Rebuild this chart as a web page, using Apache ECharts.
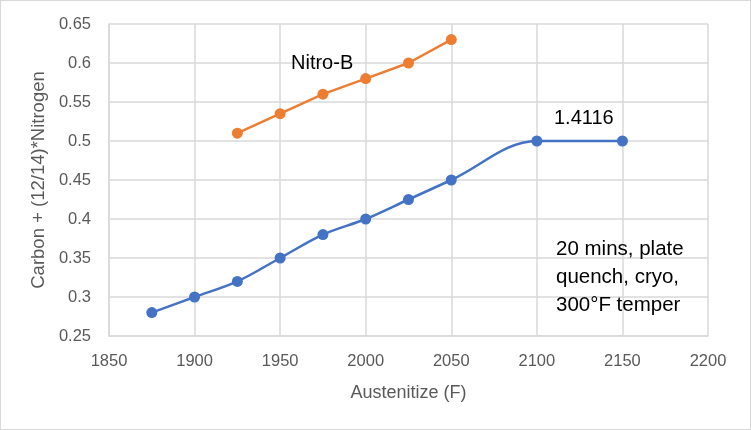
<!DOCTYPE html>
<html><head><meta charset="utf-8">
<script src="https://cdn.jsdelivr.net/npm/echarts@6/dist/echarts.min.js"></script>
<style>html,body{margin:0;padding:0;background:#fff}#c{width:751px;height:430px;box-sizing:border-box;border:1px solid #d9d9d9}</style>
</head><body><div id="c"></div>
<script>
const blueX = [1875, 1900, 1925, 1950, 1975, 2000, 2025, 2050, 2100, 2150];
const blueY = [0.28, 0.30, 0.32, 0.35, 0.38, 0.40, 0.425, 0.45, 0.50, 0.50];
const orangeX = [1925, 1950, 1975, 2000, 2025, 2050];
const orangeY = [0.51, 0.535, 0.56, 0.58, 0.60, 0.63];
const xTitle = 'Austenitize (F)';
const yTitle = 'Carbon + (12/14)*Nitrogen';
const note = '20 mins, plate\nquench, cryo,\n300°F temper';

const font = 'Liberation Sans';
const chart = echarts.init(document.getElementById('c'));
chart.setOption({
  animation: false,
  textStyle: {fontFamily: font},
  grid: {left: 108, right: 42, top: 23, bottom: 93},
  xAxis: {
    type: 'value', min: 1850, max: 2200, interval: 50,
    name: xTitle, nameLocation: 'middle', nameGap: 48,
    nameTextStyle: {color: '#595959', fontSize: 18, fontFamily: font},
    axisLine: {lineStyle: {color: '#d9d9d9', width: 1.5}},
    axisTick: {show: false},
    axisLabel: {color: '#595959', fontSize: 16.5, margin: 17, fontFamily: font,
      formatter: v => String(v)},
    splitLine: {lineStyle: {color: '#d9d9d9', width: 1.5}}
  },
  yAxis: {
    type: 'value', min: 0.25, max: 0.65, interval: 0.05,
    name: yTitle, nameLocation: 'middle', nameGap: 55, nameRotate: 90,
    nameTextStyle: {color: '#595959', fontSize: 18.5, fontFamily: font},
    axisLine: {show: true, lineStyle: {color: '#d9d9d9', width: 1.5}},
    axisTick: {show: false},
    axisLabel: {color: '#595959', fontSize: 16.5, margin: 18, fontFamily: font,
      formatter: v => String(parseFloat(v.toFixed(2)))},
    splitLine: {lineStyle: {color: '#d9d9d9', width: 1.5}}
  },
  series: [
    {
      type: 'line', name: '1.4116',
      data: blueX.map((x, i) => [x, blueY[i]]),
      smooth: 0.35, symbol: 'circle', symbolSize: 11,
      lineStyle: {color: '#4472c4', width: 2.5},
      itemStyle: {color: '#4472c4'}
    },
    {
      type: 'line', name: 'Nitro-B',
      data: orangeX.map((x, i) => [x, orangeY[i]]),
      symbol: 'circle', symbolSize: 11,
      lineStyle: {color: '#ed7d31', width: 2.5},
      itemStyle: {color: '#ed7d31'}
    }
  ],
  graphic: [
    {type: 'text', x: 290, y: 62, z: 100, style: {text: 'Nitro-B', fontSize: 20, fill: '#000', fontFamily: font, verticalAlign: 'middle'}},
    {type: 'text', x: 553, y: 117, z: 100, style: {text: '1.4116', fontSize: 20, fill: '#000', fontFamily: font, verticalAlign: 'middle'}},
    {type: 'text', x: 555, y: 276, z: 100, style: {text: note, fontSize: 20.5, lineHeight: 28, fill: '#000', fontFamily: font, verticalAlign: 'middle'}}
  ]
});
</script></body></html>
